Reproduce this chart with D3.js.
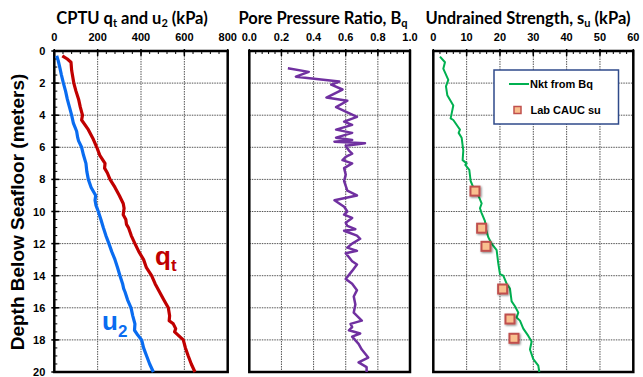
<!DOCTYPE html>
<html><head><meta charset="utf-8">
<script src="https://cdn.jsdelivr.net/npm/d3@7"></script>
<style>body{margin:0;background:#fff}svg{display:block}</style>
</head><body>
<svg id="c" width="643" height="377"></svg>
<script>
// ---- data ----
const depthTicks = [0,2,4,6,8,10,12,14,16,18,20];
const qtDepth = [0.3,0.5,0.7,1.2,2,2.5,3,3.5,4,4.3,4.9,5.5,6,6.5,7,7.3,7.6,8,8.5,9,9.5,9.8,10.2,10.5,10.8,11,11.5,12,12.5,13,13.5,14,14.5,15,15.5,16,16.5,16.8,17,17.3,17.5,18,18.5,19,19.5,20];
const qtValue = [37,60,77,80,90,100,112,120,130,126,157,180,196,210,234,232,245,257,280,300,318,322,318,330,333,342,355,372,390,412,425,449,465,485,505,526,532,530,549,560,555,595,605,618,632,649];
const u2Depth = [0.3,0.6,1,1.5,2,2.5,3,3.5,4,4.5,5,5.4,5.6,6,6.5,7,7.5,8,8.5,9,9.3,9.6,10,10.5,11,11.5,12,12.5,13,13.5,14,14.5,14.8,15,15.5,16,16.5,17,17.4,17.7,18,18.5,19,19.5,20];
const u2Value = [11,18,25,33,42,52,60,70,80,88,103,108,112,126,135,146,150,157,170,191,188,192,203,215,226,238,252,265,280,292,303,315,320,326,338,354,362,372,370,385,403,412,426,440,457];
const bqDepth = [1.08,1.3,1.6,1.9,2.1,2.4,2.9,3.1,3.5,4.1,4.4,4.6,4.9,5.1,5.4,5.55,5.65,5.75,5.9,6.2,6.4,6.6,6.8,7.0,7.3,7.7,8.1,8.4,8.7,9.0,9.3,9.5,9.7,10.0,10.2,10.4,10.7,10.9,11.1,11.2,11.5,11.7,12.0,12.25,12.45,12.6,13.1,13.3,13.7,14.2,14.5,14.9,15.3,15.8,16.3,16.8,17.0,17.2,17.4,17.6,17.8,18.25,18.6,19.1,19.4,19.7,20];
const bqValue = [0.24,0.37,0.29,0.56,0.51,0.58,0.48,0.61,0.54,0.67,0.59,0.64,0.54,0.64,0.54,0.64,0.53,0.72,0.60,0.62,0.64,0.60,0.58,0.64,0.59,0.60,0.59,0.60,0.61,0.67,0.53,0.56,0.59,0.61,0.59,0.64,0.60,0.61,0.66,0.59,0.67,0.69,0.64,0.61,0.67,0.60,0.64,0.67,0.64,0.60,0.64,0.67,0.65,0.66,0.65,0.70,0.63,0.64,0.62,0.69,0.64,0.68,0.70,0.74,0.68,0.73,0.73];
const suDepth = [0.35,0.7,1.1,1.8,2.2,2.75,3.4,3.9,4.2,4.3,4.75,4.9,5.1,5.4,6.2,6.8,7.0,7.1,7.4,8.1,8.5,9.0,9.5,9.8,10.1,10.6,11.1,11.6,12.0,12.4,13.25,13.9,14.0,14.5,14.8,15.6,15.9,16.3,16.6,16.8,17.3,17.75,18.1,18.6,19.2,19.6,20];
const suValue = [2.0,3.5,3.0,4.5,3.8,4.2,6.0,5.5,5.2,6.0,7.5,8.0,7.6,8.5,9.0,8.8,10.0,9.6,10.8,11.2,12.0,13.5,14.5,14.0,14.5,15.5,15.8,16.5,17.5,19.0,19.5,20.0,21.0,22.0,23.0,23.5,24.5,25.5,25.0,26.0,27.0,28.5,29.5,29.0,30.0,31.5,31.8];
const labDepth = [8.73,11.04,12.17,14.83,16.7,17.9];
const labSu = [12.5,14.5,15.8,20.8,23.0,24.2];
const qtTicks = [0,200,400,600,800];
const bqTicks = [0,0.2,0.4,0.6,0.8,1.0];
const suTicks = [0,10,20,30,40,50,60];

// ---- layout ----
const svg = d3.select('#c');
const y = d3.scaleLinear().domain([0,20]).range([51,372]);
const panels = [
  {x: d3.scaleLinear().domain([0,800]).range([54.3,227.7]), ticks: qtTicks, minor: 40, fmt: d3.format('d'), left:true,
   title: [['CPTU q',''],['t','sub'],[' and u',''],['2','sub'],[' (kPa)','']], tx: 132},
  {x: d3.scaleLinear().domain([0,1]).range([249.3,410]), ticks: bqTicks, minor: 0.04, fmt: d3.format('.1f'),
   title: [['Pore Pressure Ratio, B',''],['q','sub']], tx: 323},
  {x: d3.scaleLinear().domain([0,60]).range([433.3,633.3]), ticks: suTicks, minor: 2, fmt: d3.format('d'),
   title: [['Undrained Strength, s',''],['u','sub'],[' (kPa)','']], tx: 528}
];

const tickFont = 'bold 11px "Liberation Sans", Arial, sans-serif';

panels.forEach((p,i) => {
  const g = svg.append('g');
  const [xa,xb] = p.x.range(); const [ya,yb] = y.range();
  g.selectAll('.vg').data(p.ticks.slice(1,-1)).enter().append('line')
    .attr('x1',d=>p.x(d)).attr('x2',d=>p.x(d)).attr('y1',ya).attr('y2',yb)
    .attr('stroke','#555').attr('stroke-width',1).attr('stroke-dasharray','1.5,1');
  g.selectAll('.hg').data(depthTicks.slice(1,-1)).enter().append('line')
    .attr('y1',d=>y(d)).attr('y2',d=>y(d)).attr('x1',xa).attr('x2',xb)
    .attr('stroke','#555').attr('stroke-width',1).attr('stroke-dasharray','1.5,1');
  const minors = d3.range(p.x.domain()[0], p.x.domain()[1]+1e-9, p.minor);
  g.selectAll('.mt').data(minors).enter().append('line')
    .attr('x1',d=>p.x(d)).attr('x2',d=>p.x(d)).attr('y1',ya).attr('y2',ya+3)
    .attr('stroke','#000').attr('stroke-width',1);
  g.selectAll('.Mt').data(p.ticks).enter().append('line')
    .attr('x1',d=>p.x(d)).attr('x2',d=>p.x(d)).attr('y1',ya-2).attr('y2',ya+5)
    .attr('stroke','#000').attr('stroke-width',1.5);
  g.selectAll('.tl').data(p.ticks).enter().append('text')
    .attr('x',d=>p.x(d)).attr('y',ya-10).attr('text-anchor','middle')
    .style('font',tickFont).attr('fill','#000').text(p.fmt);
  if (p.left) {
    const lm = d3.range(0,20.01,0.5);
    g.selectAll('.lm').data(lm).enter().append('line')
      .attr('y1',d=>y(d)).attr('y2',d=>y(d)).attr('x1',xa).attr('x2',xa+3)
      .attr('stroke','#000').attr('stroke-width',1);
    g.selectAll('.lM').data(depthTicks).enter().append('line')
      .attr('y1',d=>y(d)).attr('y2',d=>y(d)).attr('x1',xa-3).attr('x2',xa+5)
      .attr('stroke','#000').attr('stroke-width',1.5);
    g.selectAll('.ll').data(depthTicks).enter().append('text')
      .attr('x',xa-9).attr('y',d=>y(d)+4).attr('text-anchor','end')
      .style('font',tickFont).attr('fill','#000').text(d=>d);
  }
  g.append('rect').attr('x',xa).attr('y',ya).attr('width',xb-xa).attr('height',yb-ya)
    .attr('fill','none').attr('stroke','#000').attr('stroke-width',2.5);
  const t = svg.append('text').attr('x',p.tx).attr('y',24).attr('text-anchor','middle')
    .style('font','bold 16.5px Lato, "Open Sans", sans-serif').attr('fill','#000');
  p.title.forEach(([s,k]) => {
    const ts = t.append('tspan').text(s);
    if (k==='sub') ts.attr('font-size','11px').attr('dy','3');
    else ts.attr('dy', t.selectAll('tspan').size()>1 ? '-3' : '0');
  });
});

// ---- series ----
const P1 = panels[0].x, P2 = panels[1].x, P3 = panels[2].x;
const line = (xs) => d3.line().x(d=>xs(d[1])).y(d=>y(d[0]));
svg.append('path').datum(d3.zip(qtDepth,qtValue)).attr('d',line(P1))
  .attr('fill','none').attr('stroke','#c00000').attr('stroke-width',3.2).attr('stroke-linejoin','round');
svg.append('path').datum(d3.zip(u2Depth,u2Value)).attr('d',line(P1))
  .attr('fill','none').attr('stroke','#0a6cf0').attr('stroke-width',3.2).attr('stroke-linejoin','round');
svg.append('path').datum(d3.zip(bqDepth,bqValue)).attr('d',line(P2))
  .attr('fill','none').attr('stroke','#7030a0').attr('stroke-width',2.5).attr('stroke-linejoin','round');
svg.append('path').datum(d3.zip(suDepth,suValue)).attr('d',line(P3))
  .attr('fill','none').attr('stroke','#00b050').attr('stroke-width',2).attr('stroke-linejoin','round');

const defs = svg.append('defs');
const f = defs.append('filter').attr('id','glow').attr('x','-50%').attr('y','-50%').attr('width','200%').attr('height','200%');
f.append('feGaussianBlur').attr('in','SourceAlpha').attr('stdDeviation',1.2).attr('result','b');
f.append('feOffset').attr('in','b').attr('dx',0.5).attr('dy',0.5).attr('result','o');
f.append('feComponentTransfer').attr('in','o').attr('result','o2').append('feFuncA').attr('type','linear').attr('slope',0.5);
const fm = f.append('feMerge'); fm.append('feMergeNode').attr('in','o2'); fm.append('feMergeNode').attr('in','SourceGraphic');
svg.selectAll('.lab').data(d3.zip(labDepth,labSu)).enter().append('rect')
  .attr('x',d=>P3(d[1])-4.5).attr('y',d=>y(d[0])-4.5).attr('width',9).attr('height',9)
  .attr('fill','#f9c08f').attr('stroke','#c0504d').attr('stroke-width',2).attr('filter','url(#glow)');

// legend
const lg = svg.append('g');
lg.append('rect').attr('x',494).attr('y',70).attr('width',124.5).attr('height',54)
  .attr('fill','#fff').attr('stroke','#2f4a8a').attr('stroke-width',1.5);
lg.append('line').attr('x1',509).attr('x2',529).attr('y1',84).attr('y2',84)
  .attr('stroke','#00b050').attr('stroke-width',2);
lg.append('text').attr('x',530).attr('y',88).style('font','bold 11px "Liberation Sans", Arial, sans-serif').text('Nkt from Bq');
lg.append('rect').attr('x',514).attr('y',106.5).attr('width',7).attr('height',7)
  .attr('fill','#f9c08f').attr('stroke','#c0504d').attr('stroke-width',1.5);
lg.append('text').attr('x',530.5).attr('y',114).style('font','bold 11px "Liberation Sans", Arial, sans-serif').text('Lab CAUC su');

// series labels
const big = 'bold 26px "Liberation Sans", Arial, sans-serif';
const ql = svg.append('text').attr('x',155).attr('y',265).attr('fill','#c00000').style('font',big);
ql.append('tspan').text('q');
ql.append('tspan').text('t').attr('font-size','17px').attr('dy',6);
const ul = svg.append('text').attr('x',102).attr('y',330).attr('fill','#0a6cf0').style('font',big);
ul.append('tspan').text('u');
ul.append('tspan').text('2').attr('font-size','17px').attr('dy',7);

// y axis title
svg.append('text').attr('transform','translate(24,212) rotate(-90)').attr('text-anchor','middle')
  .style('font','bold 19px "Liberation Sans", Arial, sans-serif').attr('fill','#000')
  .text('Depth Below Seafloor (meters)');
</script>
</body></html>
